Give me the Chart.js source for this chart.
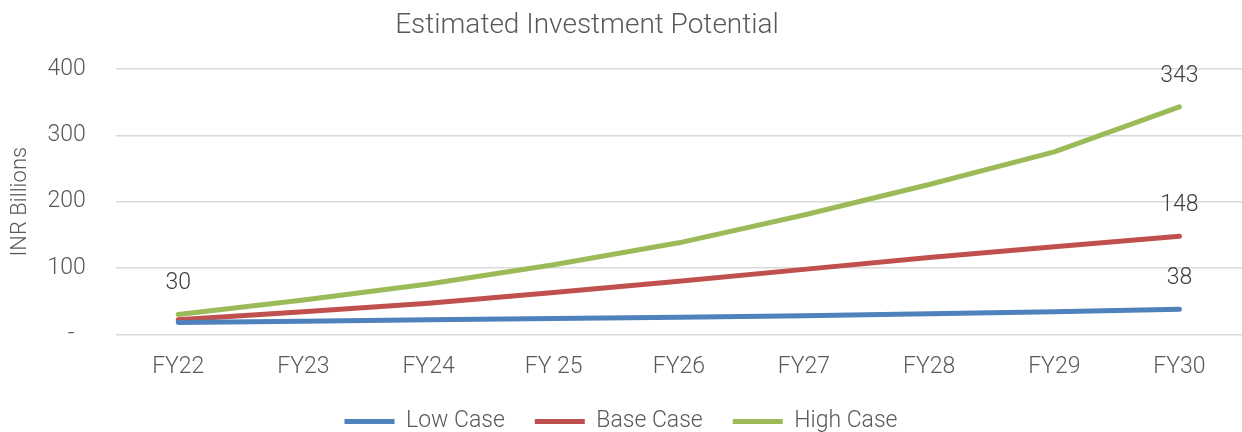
<!DOCTYPE html>
<html>
<head>
<meta charset="utf-8">
<script src="https://cdn.jsdelivr.net/npm/chart.js@4.4.1/dist/chart.umd.min.js"></script>
<style>
  html, body { margin: 0; padding: 0; background: #fff; }
  #wrap { position: relative; width: 1242px; height: 432px; }
  #title {
    position: absolute; left: 0; top: 7px; width: 1174px; text-align: center;
    font-family: Roboto, sans-serif; font-weight: 300; font-size: 28px; color: #595959;
  }
</style>
</head>
<body>
<div id="wrap">
  <div id="title">Estimated Investment Potential</div>
  <canvas id="chart" width="1242" height="432"></canvas>
</div>
<script>
// Years on the x axis
var years = ['FY22', 'FY23', 'FY24', 'FY 25', 'FY26', 'FY27', 'FY28', 'FY29', 'FY30'];

// INR billions
var lowCase  = [18, 20, 22, 24, 26, 28, 31, 34, 38];
var baseCase = [22, 34, 47, 63, 80, 98, 116, 132, 148];
var highCase = [30, 52, 76, 105, 138, 180, 226, 275, 343];

// which points carry a value label
var lowLabels = [8];
var baseLabels = [8];
var highLabels = [0, 8];

var yTicks = [0, 100, 200, 300, 400];

var fontFamily = 'Roboto, sans-serif';

// draws the value labels above the chosen points
var valueLabels = {
  id: 'valueLabels',
  afterDatasetsDraw: function(chart) {
    var ctx = chart.ctx;
    ctx.save();
    ctx.font = '300 23px ' + fontFamily;
    ctx.fillStyle = '#404040';
    ctx.textAlign = 'center';
    ctx.textBaseline = 'middle';
    chart.data.datasets.forEach(function(ds, i) {
      var meta = chart.getDatasetMeta(i);
      ds.labelAt.forEach(function(idx) {
        var pt = meta.data[idx];
        ctx.fillText(String(ds.data[idx]), pt.x, pt.y - 31);
      });
    });
    ctx.restore();
  }
};

function line(label, data, color, labelAt) {
  return {
    label: label,
    data: data,
    labelAt: labelAt,
    borderColor: color,
    backgroundColor: color,
    borderWidth: 5,
    borderCapStyle: 'round',
    borderJoinStyle: 'round',
    pointRadius: 0,
    tension: 0,
    fill: false
  };
}

var ctx = document.getElementById('chart').getContext('2d');
var chart = new Chart(ctx, {
  type: 'line',
  data: {
    labels: years,
    datasets: [
      line('Low Case', lowCase, '#4f81bd', lowLabels),
      line('Base Case', baseCase, '#c0504d', baseLabels),
      line('High Case', highCase, '#9bbb59', highLabels)
    ]
  },
  options: {
    responsive: false,
    animation: false,
    layout: { padding: { top: 69, left: 0, right: 0, bottom: -11 } },
    scales: {
      x: {
        offset: true,
        grid: { display: false, drawTicks: false },
        border: { display: false },
        ticks: {
          padding: 19,
          color: '#595959',
          font: { family: fontFamily, size: 23, weight: '300' }
        },
        afterFit: function(axis) { axis.height -= 20; }
      },
      y: {
        min: 0,
        max: 400,
        afterBuildTicks: function(axis) {
          axis.ticks = yTicks.map(function(v) { return { value: v }; });
        },
        grid: { color: '#d9d9d9', lineWidth: 1.5, drawTicks: false },
        border: { display: false },
        ticks: {
          padding: 30,
          color: '#595959',
          font: { family: fontFamily, size: 23, weight: '300' },
          callback: function(v) { return v === 0 ? '-  ' : v; }
        },
        title: {
          display: true,
          text: 'INR Billions',
          color: '#595959',
          font: { family: fontFamily, size: 22, weight: '300' },
          padding: { top: 7, bottom: -16 }
        }
      }
    },
    plugins: {
      legend: {
        position: 'bottom',
        labels: {
          usePointStyle: true,
          pointStyle: 'line',
          pointStyleWidth: 50,
          boxHeight: 5,
          padding: 30,
          color: '#595959',
          font: { family: fontFamily, size: 23, weight: '300' }
        }
      },
      tooltip: { enabled: false },
      title: { display: false }
    }
  },
  plugins: [valueLabels]
});
</script>
</body>
</html>
